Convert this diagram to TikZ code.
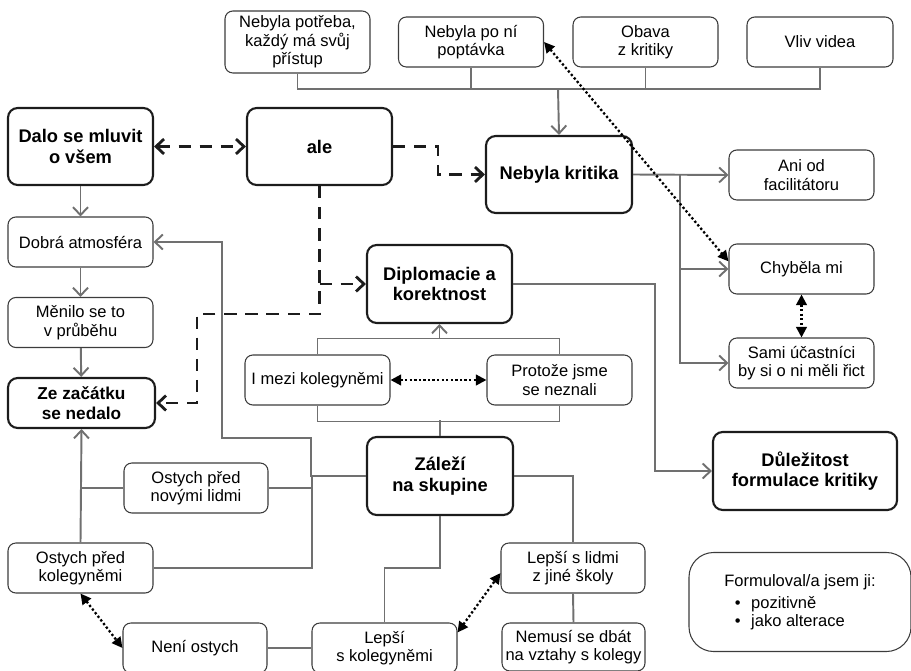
\documentclass[tikz,border=0pt]{standalone}
\usepackage{fontspec}
\setmainfont{Liberation Sans}
\usetikzlibrary{arrows.meta}
\definecolor{linkgray}{RGB}{112,112,112}
\definecolor{boxline}{RGB}{60,60,60}
\definecolor{darkline}{RGB}{28,28,28}

\tikzset{
  box/.style={draw=boxline, line width=0.6pt, rounded corners=4.5pt, align=center,
    inner sep=1pt, minimum width=2.9cm, minimum height=1cm,
    font=\fontsize{9.4}{10.5}\selectfont},
  mainbox/.style={box, draw=darkline, line width=1.2pt, rounded corners=5.5pt,
    font=\fontsize{10.4}{11.8}\selectfont\bfseries},
  link/.style={draw=linkgray, line width=1.1pt},
  dashlink/.style={draw=darkline, line width=1.6pt, dash pattern=on 7pt off 5pt},
  dotlink/.style={draw=black, line width=1.3pt, dash pattern=on 1.3pt off 1.3pt,
    {Triangle[length=6pt,width=6pt]}-{Triangle[length=6pt,width=6pt]}}
}

\begin{document}
\begin{tikzpicture}[x=0.2mm, y=-0.2mm, >={Straight Barb[length=4.5pt,width=8.5pt]}]
  \useasboundingbox (0,0) rectangle (911,671);

  % top row
  \node[box, minimum height=1.24cm] (potreba) at (297.5,42) {Nebyla potřeba,\\každý má svůj\\přístup};
  \node[box] (poptavka) at (471,42) {Nebyla po ní\\poptávka};
  \node[box] (obava) at (645.5,42) {Obava\\z kritiky};
  \node[box, minimum width=2.92cm] (vliv) at (820,42) {Vliv videa};

  % main column
  \node[mainbox, minimum height=1.54cm] (dalo) at (80.5,146.5) {Dalo se mluvit\\o všem};
  \node[mainbox, minimum height=1.54cm] (ale) at (319.5,146.5) {ale};
  \node[mainbox, minimum height=1.54cm, minimum width=2.92cm] (kritika) at (559,174.5) {Nebyla kritika};
  \node[box] (ani) at (801.5,175) {Ani od\\facilitátoru};
  \node[box] (dobra) at (80.5,242) {Dobrá atmosféra};
  \node[mainbox, minimum height=1.56cm] (diplomacie) at (439.5,284) {Diplomacie a\\korektnost};
  \node[box] (chybela) at (801.5,269) {Chyběla mi};
  \node[box] (menilo) at (80.5,322.5) {Měnilo se to\\v průběhu};
  \node[box] (imezi) at (317.5,380) {I mezi kolegyněmi};
  \node[box] (protoze) at (559.5,380) {Protože jsme\\se neznali};
  \node[box] (sami) at (801.5,363) {Sami účastníci\\by si o ni měli řict};
  \node[mainbox, minimum width=2.94cm, font=\fontsize{9.8}{11.2}\selectfont\bfseries] (zacatek) at (81.5,403) {Ze začátku\\se nedalo};
  \node[mainbox, minimum height=1.56cm, minimum width=2.92cm] (zalezi) at (440,476) {Záleží\\na skupine};
  \node[mainbox, minimum height=1.56cm, minimum width=3.68cm] (dulezitost) at (805,471) {Důležitost\\formulace kritiky};
  \node[box, minimum width=2.88cm] (novymi) at (196,488) {Ostych před\\novými lidmi};
  \node[box] (kolegyne) at (80.5,568) {Ostych před\\kolegyněmi};
  \node[box, minimum width=2.88cm] (lidmi) at (573,568) {Lepší s lidmi\\z jiné školy};
  \node[box, minimum width=4.44cm, minimum height=1.98cm, rounded corners=14pt, align=left] (formul) at (800,602)
    {Formuloval/a jsem ji:\\[2pt]\hspace*{6pt}\textbullet\hspace{6pt}pozitivně\\\hspace*{6pt}\textbullet\hspace{6pt}jako alterace};
  \node[box, minimum width=2.88cm] (neni) at (195,648) {Není ostych};
  \node[box] (lepkol) at (384.5,648) {Lepší\\s kolegyněmi};
  \node[box, minimum width=2.86cm, minimum height=0.96cm] (nemusi) at (573.5,647) {Nemusí se dbát\\na vztahy s kolegy};

  % top bus into Nebyla kritika
  \coordinate (topbus) at (558,89);
  \draw[link] (potreba.south) |- (vliv.south |- topbus) -- (vliv.south);
  \draw[link] (poptavka.south) -- (poptavka.south |- topbus);
  \draw[link] (obava.south) -- (obava.south |- topbus);
  \draw[link, ->] (topbus) -- (kritika.north);

  % dashed links from ale
  \draw[dashlink, <->] (dalo) -- (ale);
  \draw[dashlink, ->] (ale.east) -- ++(45,0) |- (kritika.west);
  \coordinate (dashturn) at (197,314);
  \draw[dashlink, ->] (ale.south) |- (dashturn) |- (zacatek.east);
  \draw[dashlink, ->] (ale.south |- diplomacie.west) -- (diplomacie.west);

  % left column
  \draw[link, ->] (dalo) -- (dobra);
  \draw[link, ->] (dobra) -- (menilo);
  \draw[link, ->] (menilo) -- (zacatek);

  % Nebyla kritika branches
  \draw[link, ->] (kritika.east) -- (ani.west);
  \coordinate (kritbus) at (680,174.5);
  \draw[link, ->] (kritbus) |- (chybela.west);
  \draw[link, ->] (kritbus) |- (sami.west);
  \draw[dotlink] (poptavka.east) -- (chybela.174);
  \draw[dotlink] (chybela.south) -- (sami.north);

  % Diplomacie a korektnost
  \draw[link, ->] (diplomacie.east) -- ++(142,0) |- (dulezitost.west);
  \draw[link] (imezi.north) -- ++(0,-16) -| (protoze.north);
  \draw[link, ->] (diplomacie.south |- 0,339) -- (diplomacie.south);
  \draw[dotlink] (imezi.east) -- (protoze.west);

  % Zalezi na skupine
  \draw[link] (imezi.south) -- ++(0,16) -| (protoze.south);
  \draw[link] (zalezi.north) -- ++(0,-16);
  \draw[link, ->] (zalezi.west) -- ++(-55,0) |- (222,438) |- (dobra.east);
  \draw[link] (312,476) |- (kolegyne.east);
  \draw[link] (novymi.east) -- ++(44,0);
  \draw[link, ->] (kolegyne.north) -- (zacatek.south);
  \draw[link] (novymi.west) -- (novymi.west -| kolegyne.north);
  \draw[dotlink] (kolegyne.south) -- (neni.west);
  \draw[link] (neni.east) -- (lepkol.west);
  \draw[link] (zalezi.south) -- ++(0,52) -| (lepkol.north);
  \draw[dotlink] (lepkol.12) -- (lidmi.184);
  \draw[link] (zalezi.east) -| (lidmi.north);
  \draw[link] (lidmi.south) -- (nemusi.north);
\end{tikzpicture}
\end{document}
